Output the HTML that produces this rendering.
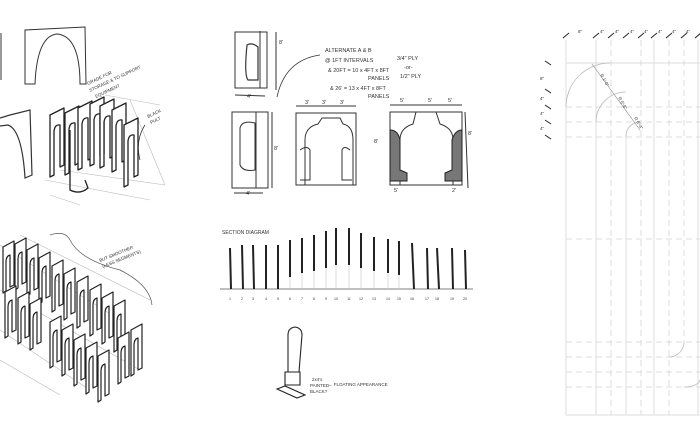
<!DOCTYPE html>
<html><head><style>
html,body{margin:0;padding:0;background:#fff;}
svg{display:block}
text{font-family:"Liberation Sans",sans-serif;fill:#333}
</style></head><body>
<svg width="700" height="441" viewBox="0 0 700 441" xmlns="http://www.w3.org/2000/svg">
<defs>
<path id="fin" d="M0,0 L11,-6 L11,38 L7,40 L7,8 Q3,9 3,15 L3,44 L0,46 Z" fill="#fff" stroke="#222" stroke-width="1.2" stroke-linejoin="round"/>
<path id="finb" d="M0,0 L14,-7 L14,50 L10,52 L10,10 Q5,9 4,16 L4,60 L0,62 Z" fill="#fff" stroke="#222" stroke-width="1.3" stroke-linejoin="round"/>
</defs>
<g fill="none" stroke="#333" stroke-width="1">
<path d="M1,33 L1,80"/>
<path d="M25,84 L25,30 L85,27 L86,84 L80,84 Q80,36 57,34 Q37,36 35,84 Z" stroke="#333"/>
<path d="M0,118 L10,115 L30,110 L32,175 L25,178 Q22,130 8,125 L0,126" stroke-width="1.2"/>
<g stroke="#bbb" stroke-width="0.6">
<path d="M45,180 L150,200 M60,170 L165,185 M130,100 L165,185 M50,195 L80,205 M105,95 L160,105"/>
</g>
</g>
<use href="#finb" x="50" y="115"/><use href="#finb" x="65" y="113"/><use href="#finb" x="78" y="108"/>
<use href="#finb" x="90" y="104"/><use href="#finb" x="100" y="106"/><use href="#finb" x="112" y="110"/>
<use href="#finb" x="124" y="125"/>
<path d="M70,130 L70,190 Q80,195 88,188 L85,180" fill="none" stroke="#222" stroke-width="1.3"/>
<g font-size="4.5" fill="#444">
<text x="88" y="85" transform="rotate(-25 88 85)">GRADE FOR</text>
<text x="90" y="92" transform="rotate(-25 90 92)">STORAGE &amp; TO SUPPORT</text>
<text x="96" y="98" transform="rotate(-25 96 98)">EQUIPMENT</text>
<text x="148" y="118" transform="rotate(-25 148 118)">BLACK</text>
<text x="151" y="124" transform="rotate(-25 151 124)">PULT</text>
</g>
<path d="M145,125 Q135,140 140,160" fill="none" stroke="#333" stroke-width="0.8"/>
<g stroke="#bbb" stroke-width="0.6" fill="none">
<path d="M0,245 L120,320 M0,290 L140,370 M20,235 L150,300 M0,330 L90,390 M0,360 L60,395"/>
</g>
<use href="#fin" x="3" y="247"/><use href="#fin" x="15" y="244"/><use href="#fin" x="27" y="250"/>
<use href="#fin" x="39" y="258"/><use href="#fin" x="52" y="266"/><use href="#fin" x="64" y="274"/>
<use href="#fin" x="77" y="282"/><use href="#fin" x="90" y="290"/><use href="#fin" x="102" y="298"/>
<use href="#fin" x="114" y="306"/>
<use href="#fin" x="5" y="292"/><use href="#fin" x="18" y="298"/><use href="#fin" x="30" y="304"/>
<use href="#fin" x="50" y="322"/><use href="#fin" x="62" y="330"/><use href="#fin" x="74" y="340"/>
<use href="#fin" x="86" y="348"/><use href="#fin" x="98" y="356"/><use href="#fin" x="118" y="338"/><use href="#fin" x="131" y="330"/>
<path d="M50,235 Q65,230 70,240 Q80,260 120,270 Q150,285 152,305" fill="none" stroke="#555" stroke-width="0.7"/>
<g font-size="4.5" fill="#444">
<text x="100" y="262" transform="rotate(-22 100 262)">BUT SMOOTHER</text>
<text x="103" y="268" transform="rotate(-22 103 268)">(LESS SEGMENTS)</text>
</g>
<g fill="none" stroke="#333" stroke-width="1">
<path d="M235,32 L267,32 L267,88 L235,88 Z M260,31 L260,88 M276,32 L276,90"/>
<path d="M247,45 Q244,75 248,80 L258,80 L258,47 Q252,42 247,45 Z" stroke-width="1.2"/>
<path d="M235,95 L265,96 M232,112 L268,112 L268,188 L232,188 Z M256,112 L256,188 M272,112 L272,188 M234,193 L263,193"/>
<path d="M240,128 Q242,120 255,123 L255,170 Q243,172 240,165 Z"/>
<path d="M296,113 L356,113 L356,185 L296,185 Z M296,106 L356,106"/>
<path d="M305,185 L305,140 Q305,127 318,124 L322,118 L340,118 L343,124 Q353,126 353,140 L353,185"/>
<path d="M300,150 Q307,145 310,150 L310,180 L300,180"/>
<path d="M350,150 Q344,145 342,150 L342,180 L352,180"/>
<path d="M390,112 L462,112 L462,185 L390,185 Z M390,105 L462,105 M465,112 L468,188"/>
<path d="M400,185 L400,140 Q400,128 413,124 L416,112 M436,112 L440,124 Q453,128 453,140 L453,185"/>
<path d="M277,97 Q285,60 320,55" stroke-width="0.8"/>
</g>
<path d="M390,130 Q398,130 400,140 L400,170 L407,173 L407,181 L390,181 Z" fill="#777" stroke="#222"/>
<path d="M462,130 Q455,130 452,140 L452,170 L445,173 L445,181 L462,181 Z" fill="#777" stroke="#222"/>
<g font-size="5.5" fill="#444">
<text x="279" y="44">8'</text><text x="247" y="98">4'</text><text x="274" y="150">8'</text><text x="246" y="195">4'</text>
<text x="305" y="104">3'</text><text x="322" y="104">3'</text><text x="340" y="104">3'</text><text x="374" y="143">8'</text>
<text x="400" y="102">5'</text><text x="428" y="102">5'</text><text x="448" y="102">5'</text><text x="468" y="135">8'</text>
<text x="394" y="192">5'</text><text x="452" y="192">2'</text>
<text x="325" y="52">ALTERNATE A &amp; B</text><text x="325" y="62">@ 1FT INTERVALS</text>
<text x="328" y="72">&amp; 20FT = 10 x 4FT x 8FT</text><text x="368" y="80">PANELS</text>
<text x="330" y="90">&amp; 26' = 13 x 4FT x 8FT</text><text x="368" y="98">PANELS</text>
<text x="397" y="60">3/4" PLY</text><text x="404" y="69">-or-</text><text x="400" y="78">1/2" PLY</text>
</g>
<text x="222" y="234" font-size="5" fill="#444">SECTION DIAGRAM</text>
<line x1="220" y1="289" x2="473" y2="289" stroke="#555" stroke-width="0.8"/>
<g stroke="#ccc" stroke-width="0.7">
<line x1="290" y1="277" x2="290" y2="289"/><line x1="302" y1="273" x2="302" y2="289"/><line x1="314" y1="271" x2="314" y2="289"/><line x1="326" y1="268" x2="326" y2="289"/><line x1="336" y1="265" x2="336" y2="289"/><line x1="349" y1="265" x2="349" y2="289"/><line x1="361" y1="268" x2="361" y2="289"/><line x1="374" y1="271" x2="374" y2="289"/><line x1="388" y1="273" x2="388" y2="289"/><line x1="399" y1="275" x2="399" y2="289"/>
</g>
<g stroke="#222" stroke-width="2">
<line x1="230" y1="248" x2="231" y2="289"/><line x1="242" y1="245" x2="243" y2="289"/><line x1="253" y1="245" x2="254" y2="289"/>
<line x1="266" y1="245" x2="266" y2="289"/><line x1="278" y1="245" x2="278" y2="289"/><line x1="290" y1="240" x2="290" y2="277"/>
<line x1="302" y1="238" x2="302" y2="273"/><line x1="314" y1="235" x2="314" y2="271"/><line x1="326" y1="231" x2="326" y2="268"/>
<line x1="336" y1="228" x2="336" y2="265"/><line x1="349" y1="228" x2="349" y2="265"/><line x1="361" y1="233" x2="361" y2="268"/>
<line x1="374" y1="237" x2="374" y2="271"/><line x1="388" y1="239" x2="388" y2="273"/><line x1="399" y1="241" x2="399" y2="275"/>
<line x1="412" y1="243" x2="414" y2="289"/><line x1="427" y1="248" x2="428" y2="289"/><line x1="437" y1="248" x2="439" y2="289"/>
<line x1="452" y1="248" x2="453" y2="289"/><line x1="465" y1="250" x2="466" y2="289"/>
</g>
<g font-size="3.5" fill="#666" text-anchor="middle">
<text x="230" y="300">1</text><text x="242" y="300">2</text><text x="253" y="300">3</text><text x="266" y="300">4</text><text x="278" y="300">5</text><text x="290" y="300">6</text><text x="302" y="300">7</text><text x="314" y="300">8</text><text x="326" y="300">9</text><text x="336" y="300">10</text><text x="349" y="300">11</text><text x="361" y="300">12</text><text x="374" y="300">13</text><text x="388" y="300">14</text><text x="399" y="300">15</text><text x="412" y="300">16</text><text x="427" y="300">17</text><text x="437" y="300">18</text><text x="452" y="300">19</text><text x="465" y="300">20</text>
</g>
<g fill="none" stroke="#222" stroke-width="1.1">
<path d="M288,372 L288,335 Q288,328 295,327 Q302,328 302,335 L299,372"/>
<path d="M285,372 L285,385 L300,385 L300,372 Z M277,389 L297,398 L305,395 L285,386 Z"/>
</g>
<g font-size="4.5" fill="#444">
<text x="312" y="381">2x4's</text><text x="310" y="387">PAINTED</text><text x="310" y="393">BLACK?</text>
<text x="328" y="386">→ FLOATING APPEARANCE</text>
</g>
<g stroke="#d4d4d4" stroke-width="0.8" fill="none">
<path d="M566,40 L566,415 M596,40 L596,415 M654,40 L654,415 M698,40 L698,415 M566,63 L700,63 M566,415 L700,415 M626,137 L626,415"/>
<path d="M611,40 L611,415 M641,40 L641,415 M669,40 L669,415 M684,40 L684,342 M566,107 L700,107 M566,122 L700,122 M566,137 L700,137 M566,239 L700,239 M566,342 L700,342 M566,357 L700,357 M566,372 L700,372 M566,387 L700,387" stroke-dasharray="6,4"/>
<path d="M566,107 A44,44 0 0 1 610,63 M596,122 A30,30 0 0 1 626,92 M626,137 A14,14 0 0 1 640,122 M684,342 A15,15 0 0 1 669,357 M700,380 A15,8 0 0 1 684,387" stroke="#bbb"/>
</g>
<g stroke="#222" stroke-width="1">
<path d="M563,38 L569,33 M593,38 L599,33 M608,38 L614,33 M623,38 L629,33 M638,38 L644,33 M651,38 L657,33 M666,38 L672,33 M681,38 L687,33 M695,38 L701,33"/>
<path d="M545,61 L551,65 M545,89 L551,93 M545,105 L551,109 M545,120 L551,124 M545,135 L551,139"/>
</g>
<path d="M592,64 L640,130" stroke="#888" stroke-width="0.6"/>
<g font-size="4.5" fill="#666">
<text x="578" y="33">8"</text><text x="600" y="33">4"</text><text x="615" y="33">4"</text><text x="630" y="33">4"</text><text x="644" y="33">4"</text><text x="658" y="33">4"</text><text x="672" y="33">4"</text><text x="686" y="33">4"</text>
<text x="540" y="80">8"</text><text x="540" y="100">4"</text><text x="540" y="115">4"</text><text x="540" y="130">4"</text>
<text x="600" y="75" transform="rotate(60 600 75)">R 1'-0"</text><text x="618" y="98" transform="rotate(60 618 98)">R 0'-8"</text><text x="634" y="118" transform="rotate(60 634 118)">R 0'-4"</text>
</g>
</svg>
</body></html>
